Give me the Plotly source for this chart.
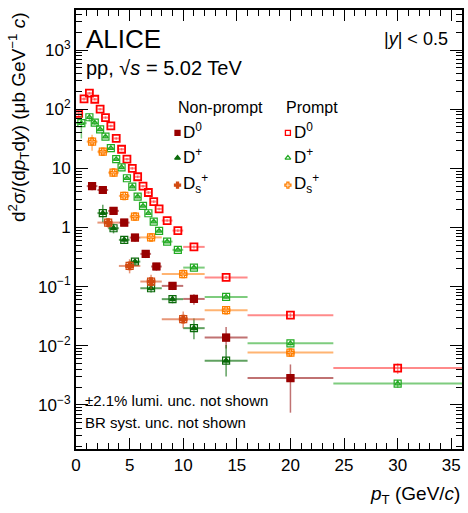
import numpy as np
import plotly.graph_objects as go

# ---------------- data ----------------
# Prompt D0
p_d0_edges = [0, 0.5, 1, 1.5, 2, 2.5, 3, 3.5, 4, 4.5, 5, 5.5, 6, 6.5, 7, 7.5, 8, 9, 10, 12, 16, 24, 36]
p_d0_vals = [85, 149, 186, 147, 100, 72, 52, 32, 21, 14.3, 10, 7.2, 5.0, 3.9, 2.74, 2.06, 1.31, 0.887, 0.47, 0.143, 0.033, 0.0042]
p_d0_err = [0.12, 0.06, 0.05, 0.05, 0.05, 0.05, 0.05, 0.05, 0.05, 0.05, 0.05, 0.05, 0.05, 0.05, 0.05, 0.05, 0.05, 0.05, 0.06, 0.06, 0.08, 0.2]

# Prompt D+
p_dp_edges = [0, 1, 1.5, 2, 2.5, 3, 3.5, 4, 4.5, 5, 5.5, 6, 6.5, 7, 7.5, 8, 9, 10, 12, 16, 24, 36]
p_dp_vals = [58, 73, 59, 45.7, 34.3, 21.9, 14.3, 10.4, 6.8, 4.9, 3.33, 2.32, 1.74, 1.26, 0.877, 0.578, 0.419, 0.21, 0.067, 0.011, 0.0023]
p_dp_err = [0.45, 0.15, 0.08, 0.06, 0.05, 0.05, 0.05, 0.05, 0.05, 0.05, 0.05, 0.05, 0.05, 0.05, 0.05, 0.05, 0.05, 0.06, 0.06, 0.08, 0.15]

# Prompt Ds+
p_ds_edges = [1, 2, 3, 4, 5, 6, 8, 12, 16, 24]
p_ds_vals = [28.3, 19.1, 8.46, 3.42, 1.53, 0.68, 0.163, 0.040, 0.0077]
p_ds_err = [0.3, 0.1, 0.07, 0.06, 0.06, 0.06, 0.06, 0.08, 0.12]

# Non-prompt D0
np_d0_edges = [1, 2, 3, 4, 5, 6, 7, 8, 10, 12, 16, 24]
np_d0_vals = [5.0, 4.3, 1.91, 1.21, 0.675, 0.358, 0.219, 0.103, 0.062, 0.0138, 0.00285]
np_d0_up = [0.15, 0.12, 0.12, 0.12, 0.15, 0.15, 0.15, 0.15, 0.2, 0.5, 0.7]
np_d0_dn = [0.15, 0.12, 0.12, 0.12, 0.15, 0.15, 0.15, 0.15, 0.2, 0.35, 0.74]

# Non-prompt D+
np_dp_edges = [2, 3, 4, 5, 6, 8, 10, 12, 16]
np_dp_vals = [1.75, 0.97, 0.618, 0.265, 0.094, 0.0615, 0.0199, 0.0056]
np_dp_up = [0.38, 0.2, 0.12, 0.12, 0.15, 0.15, 0.45, 0.85]
np_dp_dn = [0.3, 0.18, 0.12, 0.12, 0.15, 0.15, 0.35, 0.46]

# Non-prompt Ds+
np_ds_edges = [2, 4, 6, 8, 12]
np_ds_vals = [1.21, 0.224, 0.122, 0.0282]
np_ds_up = [0.2, 0.3, 0.3, 0.35]
np_ds_dn = [0.2, 0.25, 0.25, 0.3]

y_tickvals = [1e-3, 1e-2, 1e-1, 1, 10, 1e2, 1e3]
y_ticktext = ["10<sup>\u22123</sup>", "10<sup>\u22122</sup>", "10<sup>\u22121</sup>", "1", "10", "10<sup>2</sup>", "10<sup>3</sup>"]
x_tickvals = [0, 5, 10, 15, 20, 25, 30, 35]

FONT = "Liberation Sans, Arial, Helvetica, sans-serif"

fig = go.Figure()


def add_series(edges, vals, up, dn, color, ecolor, symbol, msize, box=True, mline=1.5):
    e = np.array(edges, float)
    v = np.array(vals, float)
    xc = 0.5 * (e[:-1] + e[1:])
    xh = 0.5 * (e[1:] - e[:-1])
    eu = v * np.array(up, float)
    ed = v * np.array(dn, float)
    fig.add_trace(go.Scatter(
        x=xc, y=v, mode="markers", showlegend=False, hoverinfo="skip",
        marker=dict(symbol=symbol, size=msize, color=color, line=dict(color=color, width=mline)),
        error_x=dict(type="data", array=xh, symmetric=True, thickness=2, width=0, color=ecolor),
        error_y=dict(type="data", array=eu, arrayminus=ed, thickness=1.5, width=0, color=ecolor),
    ))
    if box:
        fig.add_trace(go.Scatter(
            x=xc, y=v, mode="markers", showlegend=False, hoverinfo="skip",
            marker=dict(symbol="square-open", size=7, color=color, line=dict(color=color, width=1.2)),
        ))


RED, RED_E = "#ff0000", "rgba(255,60,60,0.6)"
GRN, GRN_E = "#22aa22", "rgba(40,170,40,0.6)"
ORA, ORA_E = "#ff7f00", "rgba(255,130,20,0.6)"
DRED, DRED_E = "#990000", "rgba(150,20,20,0.6)"
DGRN, DGRN_E = "#0a6a0a", "rgba(10,110,10,0.65)"
DORA, DORA_E = "#d24a10", "rgba(215,80,30,0.6)"

add_series(p_d0_edges, p_d0_vals, p_d0_err, p_d0_err, RED, RED_E, "square-open", 7, box=False, mline=1.8)
add_series(p_dp_edges, p_dp_vals, p_dp_err, p_dp_err, GRN, GRN_E, "triangle-up-open", 5, mline=1.2)
add_series(p_ds_edges, p_ds_vals, p_ds_err, p_ds_err, ORA, ORA_E, "cross-open", 6, mline=1.3)
add_series(np_d0_edges, np_d0_vals, np_d0_up, np_d0_dn, DRED, DRED_E, "square", 6)
add_series(np_dp_edges, np_dp_vals, np_dp_up, np_dp_dn, DGRN, DGRN_E, "triangle-up", 5)
add_series(np_ds_edges, np_ds_vals, np_ds_up, np_ds_dn, DORA, DORA_E, "cross", 6)

# ---------------- legend (overlay axes in fraction units) ----------------
leg_x = [0.263, 0.549]
leg_y = [0.720, 0.663, 0.601]
leg_sym = [["square", "triangle-up", "cross"], ["square-open", "triangle-up-open", "cross-open"]]
leg_col = [[DRED, DGRN, DORA], [RED, GRN, ORA]]
leg_txt = ["D<sup>0</sup>", "D<sup>+</sup>", "D<sub>s</sub><sup>+</sup>"]
for c in range(2):
    for r in range(3):
        fig.add_trace(go.Scatter(
            x=[leg_x[c]], y=[leg_y[r]], xaxis="x2", yaxis="y2", mode="markers",
            showlegend=False, hoverinfo="skip",
            marker=dict(symbol=leg_sym[c][r], size=5, color=leg_col[c][r],
                        line=dict(color=leg_col[c][r], width=1.3)),
        ))
        fig.add_annotation(xref="x2", yref="y2", x=leg_x[c] + 0.010, y=leg_y[r] + 0.004,
                           text=leg_txt[r], showarrow=False, xanchor="left", yanchor="middle",
                           font=dict(size=17, color="black", family=FONT))

fig.add_annotation(xref="x2", yref="y2", x=0.258, y=0.777, text="Non-prompt", showarrow=False,
                   xanchor="left", yanchor="middle", font=dict(size=16, color="black", family=FONT))
fig.add_annotation(xref="x2", yref="y2", x=0.539, y=0.777, text="Prompt", showarrow=False,
                   xanchor="left", yanchor="middle", font=dict(size=16, color="black", family=FONT))

# Header texts
fig.add_annotation(xref="x2", yref="y2", x=0.02, y=0.935, text="ALICE", showarrow=False,
                   xanchor="left", yanchor="middle", font=dict(size=26, color="black", family=FONT))
fig.add_annotation(xref="x2", yref="y2", x=0.02, y=0.868, text="pp, \u221a<i>s</i> = 5.02 TeV", showarrow=False,
                   xanchor="left", yanchor="middle", font=dict(size=20, color="black", family=FONT))
fig.add_annotation(xref="x2", yref="y2", x=0.97, y=0.933, text="|<i>y</i>| &lt; 0.5", showarrow=False,
                   xanchor="right", yanchor="middle", font=dict(size=18, color="black", family=FONT))
fig.add_annotation(xref="x2", yref="y2", x=0.018, y=0.111, text="\u00b12.1% lumi. unc. not shown", showarrow=False,
                   xanchor="left", yanchor="middle", font=dict(size=15, color="black", family=FONT))
fig.add_annotation(xref="x2", yref="y2", x=0.018, y=0.061, text="BR syst. unc. not shown", showarrow=False,
                   xanchor="left", yanchor="middle", font=dict(size=15, color="black", family=FONT))

# Axis titles
fig.add_annotation(xref="paper", yref="paper", x=-0.15, y=1.0, textangle=-90,
                   text="d<sup>2</sup>\u03c3/(d<i>p</i><sub>T</sub>d<i>y</i>) (\u03bcb GeV<sup>\u22121</sup> <i>c</i>)",
                   showarrow=False, xanchor="center", yanchor="top",
                   font=dict(size=19, color="black", family=FONT))
fig.add_annotation(xref="paper", yref="paper", x=1.0, y=-0.105,
                   text="<i>p</i><sub>T</sub> (GeV/<i>c</i>)", showarrow=False,
                   xanchor="right", yanchor="middle", font=dict(size=19, color="black", family=FONT))

minor_y = [k * 10.0 ** n for n in range(-4, 4) for k in range(2, 10)]
minor_y = [m for m in minor_y if 1.8e-4 < m < 4.7e3]

fig.update_layout(
    width=468, height=513,
    margin=dict(l=76, r=4, t=10, b=64),
    paper_bgcolor="white", plot_bgcolor="white",
    font=dict(family=FONT, size=17, color="black"),
    xaxis=dict(range=[0, 36], tickmode="array", tickvals=x_tickvals,
               ticks="inside", ticklen=11, tickwidth=1, tickcolor="black",
               showline=True, linecolor="black", linewidth=2, mirror="allticks",
               showgrid=False, zeroline=False, tickfont=dict(size=17),
               minor=dict(ticks="inside", ticklen=6, tickwidth=1, tickcolor="black", dtick=1, tick0=0, showgrid=False)),
    yaxis=dict(type="log", range=[-3.744, 3.676], tickmode="array", tickvals=y_tickvals, ticktext=y_ticktext,
               ticks="inside", ticklen=12, tickwidth=1, tickcolor="black",
               showline=True, linecolor="black", linewidth=2, mirror="allticks",
               showgrid=False, zeroline=False, tickfont=dict(size=17),
               minor=dict(ticks="inside", ticklen=6, tickwidth=1, tickcolor="black",
                          tickmode="array", tickvals=minor_y, showgrid=False)),
    xaxis2=dict(overlaying="x", range=[0, 1], visible=False, fixedrange=True),
    yaxis2=dict(overlaying="y", range=[0, 1], visible=False, fixedrange=True),
)

fig.write_html("out.html")
